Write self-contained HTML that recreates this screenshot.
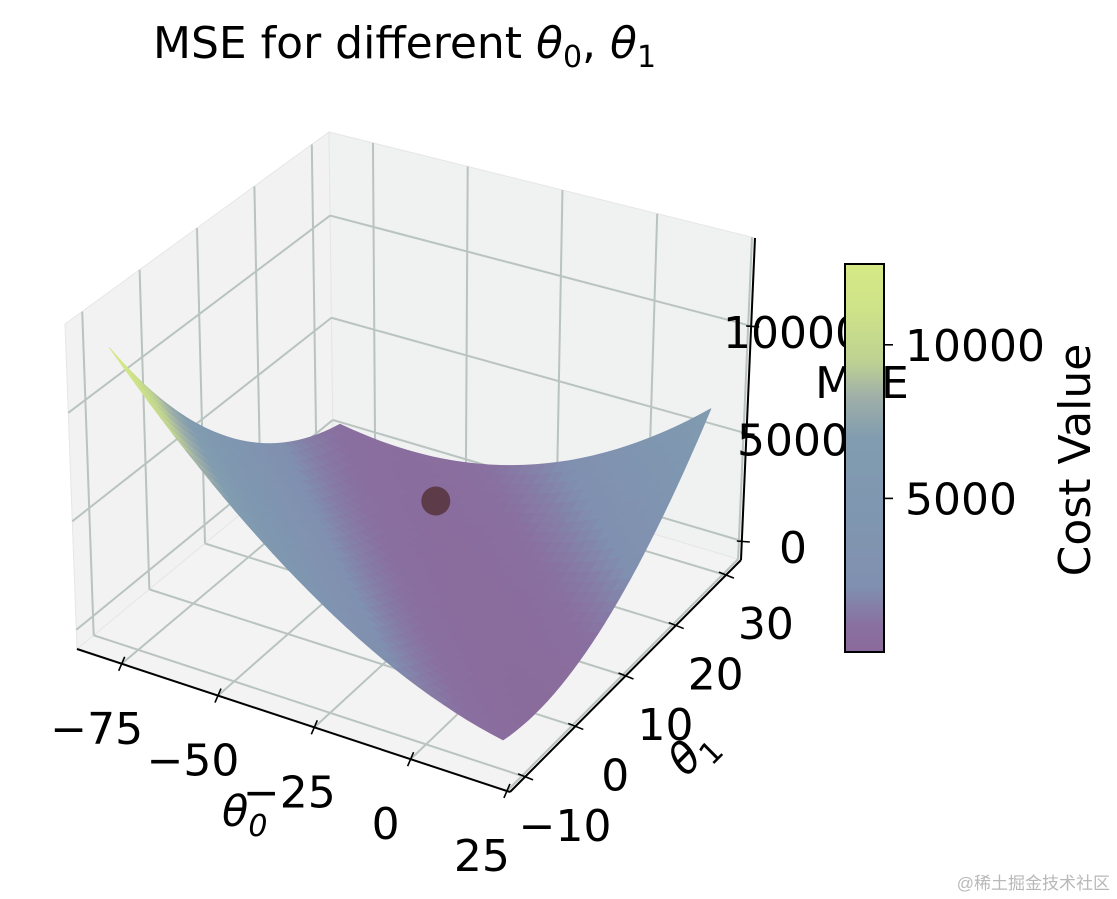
<!DOCTYPE html>
<html><head><meta charset="utf-8"><title>MSE surface</title>
<style>
html,body{margin:0;padding:0;background:#fff;}
svg{display:block;}
text{font-family:"DejaVu Sans","Liberation Sans",sans-serif;fill:#000;}
</style></head>
<body>
<svg id="chart" width="1117" height="899" viewBox="0 0 1117 899" xmlns="http://www.w3.org/2000/svg">
  <rect x="0" y="0" width="1117" height="899" fill="#ffffff"/>
  <text x="153" y="58" font-size="44">MSE for different <tspan font-style="italic">θ</tspan><tspan font-size="30" dy="9">0</tspan><tspan dy="-9">, </tspan><tspan font-style="italic">θ</tspan><tspan font-size="30" dy="9">1</tspan></text>
  <g id="panes"></g>
  <g id="grid"></g>
  <g id="axes"></g>
  <g id="surface"></g>
  <g id="marker"></g>
  <g id="ticklabels"></g>
  <text x="222" y="826" font-size="43"><tspan font-style="italic">θ</tspan><tspan font-size="30" dy="10" font-style="italic">0</tspan></text>
  <text transform="translate(702,762) rotate(-45)" font-size="43" text-anchor="middle"><tspan font-style="italic">θ</tspan><tspan font-size="30" dy="10">1</tspan></text>
  <text x="862" y="398" font-size="44" text-anchor="middle">MSE</text>
  <g id="colorbar"></g>
  <text transform="translate(1090,460) rotate(-90)" font-size="44" text-anchor="middle">Cost Value</text>
  <text x="1110" y="889" font-size="17" text-anchor="end" fill="#b8b8b8" style="fill:#b8b8b8;font-family:'Liberation Sans','Noto Sans CJK SC',sans-serif">@稀土掘金技术社区</text>
</svg>
<script>
// ---- data ----
const theta0Values = [-80, -55, -30, -5, 20];
const theta1Values = [-10, 0, 10, 20, 30];
const mseRowM10 = [12780, 8000, 4355, 1837, 449];
const mseRow0   = [8092, 4445, 1927, 539, 282];
const mseRow10  = [4535, 2017, 629, 372, 1244];
const mseRow20  = [2107, 719, 462, 1334, 3337];
const mseRow30  = [809, 552, 1424, 3427, 6559];
const mseGrid = [mseRowM10, mseRow0, mseRow10, mseRow20, mseRow30];
const minPoint = [-45, 24, 300];
const theta0Ticks = [-75, -50, -25, 0, 25];
const theta1Ticks = [-10, 0, 10, 20, 30];
const zTicks = [0, 5000, 10000];
const cbTicks = [5000, 10000];

// ---- axes ----
const X0 = [-86.6, 25.8], Y0 = [-13, 33], Z0 = [-884, 14090];
const P = {
  '000':[77,649],'100':[510,792],'010':[333,438],'110':[741,560],
  '001':[65,324],'101':[513,458],'011':[329,132],'111':[755,238]
};
function bil(p00,p10,p01,p11,a,b){
  return [(1-a)*(1-b)*p00[0]+a*(1-b)*p10[0]+(1-a)*b*p01[0]+a*b*p11[0],
          (1-a)*(1-b)*p00[1]+a*(1-b)*p10[1]+(1-a)*b*p01[1]+a*b*p11[1]];
}
function proj(t0,t1,z){
  const a=(t0-X0[0])/(X0[1]-X0[0]), b=(t1-Y0[0])/(Y0[1]-Y0[0]), c=(z-Z0[0])/(Z0[1]-Z0[0]);
  const f=bil(P['000'],P['100'],P['010'],P['110'],a,b);
  const t=bil(P['001'],P['101'],P['011'],P['111'],a,b);
  return [f[0]+(t[0]-f[0])*c, f[1]+(t[1]-f[1])*c];
}
const NS='http://www.w3.org/2000/svg';
function mk(tag,attrs,parent){const e=document.createElementNS(NS,tag);for(const k in attrs)e.setAttribute(k,attrs[k]);parent.appendChild(e);return e;}
function pts(arr){return arr.map(p=>p[0].toFixed(1)+','+p[1].toFixed(1)).join(' ');}

const CMAX=12630;
const stops=[[0,[138,106,155]],[0.07,[137,112,160]],[0.17,[128,144,176]],[0.4,[127,152,176]],[0.55,[129,156,176]],[0.66,[160,176,168]],[0.75,[190,210,146]],[0.88,[206,226,136]],[1,[214,233,134]]];
function cmap(v){
  let t=Math.max(0,Math.min(1,v/CMAX));
  for(let i=1;i<stops.length;i++){
    if(t<=stops[i][0]){const s0=stops[i-1],s1=stops[i];const u=(t-s0[0])/(s1[0]-s0[0]);
      const c=s0[1].map((x,k)=>Math.round(x+(s1[1][k]-x)*u));return 'rgb('+c.join(',')+')';}
  }
  return 'rgb(214,233,134)';
}

// panes
const panes=document.getElementById('panes');
const paneDefs=[
 ['left-pane',[proj(X0[0],Y0[0],Z0[0]),proj(X0[0],Y0[1],Z0[0]),proj(X0[0],Y0[1],Z0[1]),proj(X0[0],Y0[0],Z0[1])],'#f2f2f2'],
 ['back-pane',[proj(X0[0],Y0[1],Z0[0]),proj(X0[1],Y0[1],Z0[0]),proj(X0[1],Y0[1],Z0[1]),proj(X0[0],Y0[1],Z0[1])],'#f0f1f1'],
 ['floor-pane',[proj(X0[0],Y0[0],Z0[0]),proj(X0[1],Y0[0],Z0[0]),proj(X0[1],Y0[1],Z0[0]),proj(X0[0],Y0[1],Z0[0])],'#f3f3f3']
];
paneDefs.forEach(d=>{
  const e=mk('polygon',{points:pts(d[1]),fill:d[2],stroke:'#e6e6e6','stroke-width':1},panes);
  
  
});

// gridlines
const grid=document.getElementById('grid');
function gl(a,b,name){
  const e=mk('line',{x1:a[0],y1:a[1],x2:b[0],y2:b[1],stroke:'#b9c3c0','stroke-width':2},grid);
  
  
}
theta0Ticks.forEach(v=>{
  gl(proj(v,Y0[0],Z0[0]),proj(v,Y0[1],Z0[0]),'floor-grid-theta0');
  gl(proj(v,Y0[1],Z0[0]),proj(v,Y0[1],Z0[1]),'back-grid-theta0');
});
theta1Ticks.forEach(v=>{
  gl(proj(X0[0],v,Z0[0]),proj(X0[1],v,Z0[0]),'floor-grid-theta1');
  gl(proj(X0[0],v,Z0[0]),proj(X0[0],v,Z0[1]),'left-grid-theta1');
});
zTicks.forEach(v=>{
  gl(proj(X0[0],Y0[0],v),proj(X0[0],Y0[1],v),'left-grid-z');
  gl(proj(X0[0],Y0[1],v),proj(X0[1],Y0[1],v),'back-grid-z');
});

// axis lines + ticks
const axes=document.getElementById('axes');
function al(a,b,name,w){
  const e=mk('line',{x1:a[0],y1:a[1],x2:b[0],y2:b[1],stroke:'#000','stroke-width':w||2},axes);
  
  
}
al(proj(X0[0],Y0[0],Z0[0]),proj(X0[1],Y0[0],Z0[0]),'theta0-axis-line');
al(proj(X0[1],Y0[0],Z0[0]),proj(X0[1],Y0[1],Z0[0]),'theta1-axis-line');
al(proj(X0[1],Y0[1],Z0[0]),proj(X0[1],Y0[1],Z0[1]),'z-axis-line');
const tl=document.getElementById('ticklabels');
function lab(x,y,s,name){
  const e=mk('text',{x:x.toFixed(1),y:y.toFixed(1),'font-size':44,'text-anchor':'middle'},tl);
  e.textContent=s;
  
  
}
function fmt(v){return v<0?'\u2212'+Math.abs(v):String(v);}
theta0Ticks.forEach(v=>{
  const p=proj(v,Y0[0],Z0[0]);
  al([p[0]+3,p[1]-7],[p[0]-3,p[1]+7],'theta0-tick',1.6);
  lab(p[0]-25,p[1]+80,fmt(v),'theta0-tick-label');
});
theta1Ticks.forEach(v=>{
  const p=proj(X0[1],v,Z0[0]);
  al([p[0]-7,p[1]-3],[p[0]+8,p[1]+3],'theta1-tick',1.6);
  lab(p[0]+40,p[1]+64,fmt(v),'theta1-tick-label');
});
zTicks.forEach(v=>{
  const p=proj(X0[1],Y0[1],v);
  al([p[0]-5,p[1]],[p[0]+8,p[1]+1],'z-tick',1.6);
  lab(793,p[1]+22,fmt(v),'z-tick-label');
});

// surface: smooth (Catmull-Rom) rendering through the data grid
const surf=document.getElementById('surface');
function ext(arr){const n=arr.length;return [3*arr[0]-3*arr[1]+arr[2]].concat(arr,[3*arr[n-1]-3*arr[n-2]+arr[n-3]]);}
const gridExt=(function(){
  const rows=mseGrid.map(r=>ext(r));
  const cols=rows[0].length, out=[];
  const colArrs=[];for(let c=0;c<cols;c++)colArrs.push(ext(rows.map(r=>r[c])));
  for(let r=0;r<rows.length+2;r++){out.push(colArrs.map(c=>c[r]));}
  return out;
})();
function cr(p0,p1,p2,p3,t){return 0.5*((2*p1)+(-p0+p2)*t+(2*p0-5*p1+4*p2-p3)*t*t+(-p0+3*p1-3*p2+p3)*t*t*t);}
function zAt(i,j,u,v){
  const r=[];
  for(let k=0;k<4;k++){const row=gridExt[j+k];r.push(cr(row[i],row[i+1],row[i+2],row[i+3],u));}
  return cr(r[0],r[1],r[2],r[3],v);
}
const quads=[];
const SUB=8;
for(let j=0;j<theta1Values.length-1;j++){
  for(let i=0;i<theta0Values.length-1;i++){
    for(let sj=0;sj<SUB;sj++)for(let si=0;si<SUB;si++){
      const u0=si/SUB,u1=(si+1)/SUB,v0=sj/SUB,v1=(sj+1)/SUB;
      const tt0=u=>theta0Values[i]+(theta0Values[i+1]-theta0Values[i])*u;
      const tt1=v=>theta1Values[j]+(theta1Values[j+1]-theta1Values[j])*v;
      const corners=[[u0,v0],[u1,v0],[u1,v1],[u0,v1]].map(c=>proj(tt0(c[0]),tt1(c[1]),zAt(i,j,c[0],c[1])));
      const zc=zAt(i,j,(u0+u1)/2,(v0+v1)/2);
      const depth=tt1((v0+v1)/2)/(Y0[1]-Y0[0])-tt0((u0+u1)/2)/(X0[1]-X0[0]);
      quads.push({corners,zc,depth});
    }
  }
}
quads.sort((a,b)=>b.depth-a.depth);
quads.forEach(q=>{
  const col=cmap(q.zc);
  const e=mk('polygon',{points:pts(q.corners),fill:col,stroke:col,'stroke-width':0.8,'stroke-linejoin':'round'},surf);
  
  
});

// minimum marker
const mp=proj(minPoint[0],minPoint[1],minPoint[2]);
const dot=mk('circle',{cx:mp[0].toFixed(1),cy:mp[1].toFixed(1),r:14.5,fill:'#5e3b49'},document.getElementById('marker'));



// colorbar
const cb=document.getElementById('colorbar');
const defs=mk('defs',{},cb);
const lg=mk('linearGradient',{id:'cbgrad',x1:0,y1:1,x2:0,y2:0},defs);
stops.forEach(s=>{mk('stop',{offset:s[0],'stop-color':'rgb('+s[1].join(',')+')'},lg);});
const cbX=845,cbW=39,cbTop=264,cbBot=652;
const cbY=v=>cbBot-(v/CMAX)*(cbBot-cbTop);
const cbr=mk('rect',{x:cbX,y:cbTop,width:cbW,height:cbBot-cbTop,fill:'url(#cbgrad)',stroke:'#000','stroke-width':2},cb);


cbTicks.forEach(v=>{
  const y=cbY(v);
  const t=mk('line',{x1:cbX+cbW,y1:y,x2:cbX+cbW+9,y2:y,stroke:'#000','stroke-width':1.6},cb);
  
  
  const l=mk('text',{x:905,y:(y+16).toFixed(1),'font-size':44},cb);
  l.textContent=String(v);
  
  
});
</script>
</body></html>
